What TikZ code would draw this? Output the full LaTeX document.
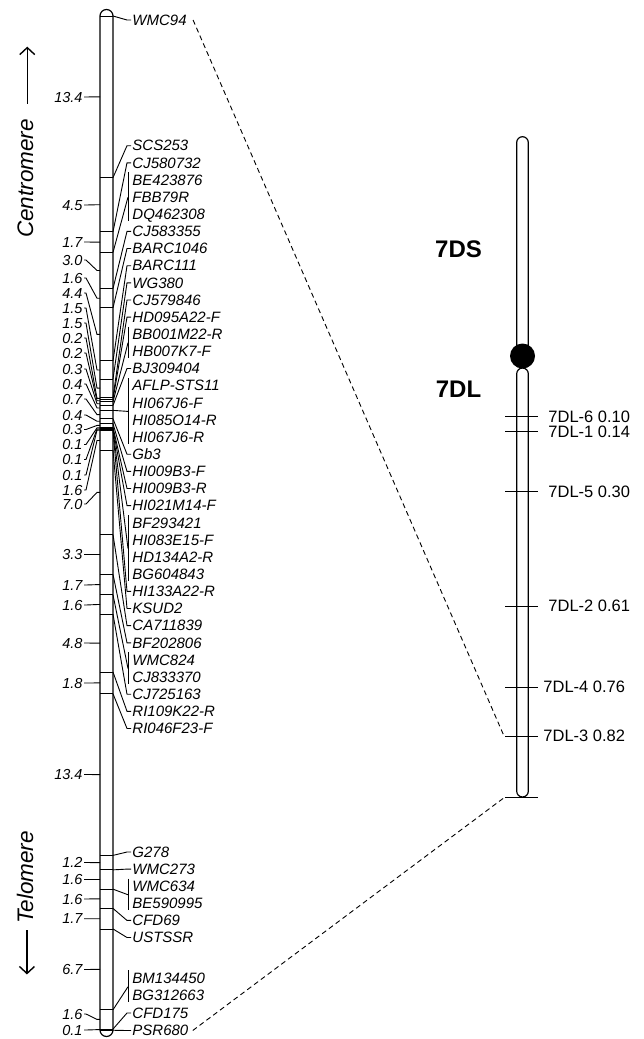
\documentclass[tikz,border=0pt]{standalone}
\usepackage{fontspec}
\setmainfont{Liberation Sans}
\usepackage{tikz}
\usetikzlibrary{arrows.meta,calc}

\tikzset{
  mk/.style={anchor=west, inner sep=1pt, text height=10.5pt, text depth=0pt, font=\fontsize{15}{17}\selectfont\itshape},
  dist/.style={anchor=east, inner sep=1pt, text height=10.2pt, text depth=0pt, font=\fontsize{14.5}{17}\selectfont\itshape},
  flbl/.style={anchor=west, inner sep=1pt, text height=11pt, text depth=0pt, font=\fontsize{16.5}{19}\selectfont},
  armlbl/.style={font=\fontsize{24}{28}\selectfont\bfseries},
  endlbl/.style={rotate=90, anchor=base, inner sep=0pt, font=\fontsize{22.5}{26}\selectfont\itshape},
  updown/.style={line width=1.4pt, -{Straight Barb[length=7pt,width=15pt]}},
  link/.style={dash pattern=on 5pt off 3.5pt, line width=0.9pt},
  body/.style={line width=1.2pt},
}

\begin{document}
\begin{tikzpicture}[x=1pt,y=-1pt,line width=0.9pt]
  \useasboundingbox (0,0) rectangle (644,1039);

  % Linkage group (cM scale: 12.06 px per cM, top locus at 16)
  \draw[body,rounded corners=6.5pt] (100,9.5) rectangle (113,1036.5);
  \foreach \i/\c in {0/0,1/13.4,2/17.9,3/19.6,4/22.6,5/24.2,6/28.6,7/30.1,8/31.6,
      9/31.8,10/32.0,11/32.3,12/32.7,13/33.4,14/33.8,15/34.1,16/34.2,17/34.3,18/34.4,
      19/36.0,20/43.0,21/46.3,22/48.0,23/49.6,24/54.4,25/56.2,26/69.6,27/70.8,28/72.4,
      29/74.0,30/75.7,31/82.4,32/84.0,33/84.1} {
    \draw (100,16+12.06*\c) -- (113,16+12.06*\c) coordinate (l\i);
  }

  % Interval distances on the left
  \foreach \i/\d/\c/\ly in {1/13.4/6.7/97,2/4.5/15.65/205,3/1.7/18.75/242,4/3.0/21.1/260,
      5/1.6/23.4/278,6/4.4/26.4/293,7/1.5/29.35/308,8/1.5/30.85/323,9/0.2/31.7/338,
      10/0.2/31.9/353,11/0.3/32.15/369,12/0.4/32.5/384,13/0.7/33.05/399,14/0.4/33.6/415,
      15/0.3/33.95/429.5,16/0.1/34.15/444.5,17/0.1/34.25/459.5,18/0.1/34.35/475,
      19/1.6/35.2/490,20/7.0/39.5/504,21/3.3/44.65/554.5,22/1.7/47.15/585,23/1.6/48.8/605,
      24/4.8/52.0/643,25/1.8/55.3/683,26/13.4/62.9/774.5,27/1.2/70.2/862.5,28/1.6/71.6/879.5,
      29/1.6/73.2/899,30/1.7/74.85/918.7,31/6.7/79.05/969.5,32/1.6/83.2/1014,33/0.1/84.05/1030} {
    \coordinate (n\i) at (100,16+12.06*\c);
    \node[dist] (d\i) at (84,\ly) {\d};
    \draw (d\i.east) -- ++(2,0) -- ([xshift=-3pt]n\i) -- (n\i);
  }

  % Marker names on the right
  \foreach \n/\t/\y in {wmc94/WMC94/20,scs253/SCS253/145.7,cj580732/CJ580732/162.8,
      be423876/BE423876/180,fbb79r/FBB79R/197.1,dq462308/DQ462308/214.3,
      cj583355/CJ583355/231.4,barc1046/BARC1046/248.5,barc111/BARC111/265.7,
      wg380/WG380/282.8,cj579846/CJ579846/300,hd095a22f/HD095A22-F/317.1,
      bb001m22r/BB001M22-R/334.2,hb007k7f/HB007K7-F/351.4,bj309404/BJ309404/368.5,
      aflp/AFLP-STS11/385.7,hi067j6f/HI067J6-F/402.8,hi085o14r/HI085O14-R/419.9,
      hi067j6r/HI067J6-R/437.1,gb3/Gb3/454.2,hi009b3f/HI009B3-F/471.4,
      hi009b3r/HI009B3-R/488.5,hi021m14f/HI021M14-F/505.6,bf293421/BF293421/522.8,
      hi083e15f/HI083E15-F/539.9,hd134a2r/HD134A2-R/557.1,bg604843/BG604843/574.2,
      hi133a22r/HI133A22-R/591.3,ksud2/KSUD2/608.5,ca711839/CA711839/625.6,
      bf202806/BF202806/642.8,wmc824/WMC824/659.9,cj833370/CJ833370/677,
      cj725163/CJ725163/694.2,ri109k22r/RI109K22-R/711.3,ri046f23f/RI046F23-F/728.5,
      g278/G278/852,wmc273/WMC273/869.1,wmc634/WMC634/886.2,be590995/BE590995/903.3,
      cfd69/CFD69/920.4,ustssr/USTSSR/937.5,bm134450/BM134450/978,
      bg312663/BG312663/995.5,cfd175/CFD175/1013,psr680/PSR680/1030.5} {
    \node[mk] (\n) at (131,\y) {\t};
  }

  % Single markers
  \foreach \l/\n in {l0/wmc94,l1/scs253,l2/cj580732,l4/cj583355,l5/barc1046,l6/barc111,
      l7/wg380,l8/cj579846,l9/hd095a22f,l11/bj309404,l13/gb3,l14/hi009b3f,l15/hi009b3r,
      l16/hi021m14f,l18/hi133a22r,l19/ksud2,l20/ca711839,l21/bf202806,l23/cj725163,
      l24/ri109k22r,l25/ri046f23f,l26/g278,l27/wmc273,l29/cfd69,l30/ustssr,
      l32/cfd175,l33/psr680} {
    \draw (\l) -- ([xshift=-4pt]\n.west) -- (\n.west);
  }

  % Co-segregating markers
  \foreach \l/\a/\b in {l3/be423876/dq462308,l10/bb001m22r/hb007k7f,l12/aflp/hi067j6r,
      l17/bf293421/bg604843,l22/wmc824/cj833370,l28/wmc634/be590995,
      l31/bm134450/bg312663} {
    \draw ([xshift=-3pt,yshift=1pt]\a.north west) -- ([xshift=-3pt]\b.south west);
    \draw (\l) -- ($(\a.west)!0.5!(\b.west)+(-3,0)$);
  }

  % Orientation
  \node[endlbl] (cen) at (33,178.5) {Centromere};
  \draw[updown] ([xshift=2pt,yshift=15pt]cen.east) -- ++(0,-57);
  \node[endlbl] (tel) at (33,877.5) {Telomere};
  \draw[updown] ([xshift=2pt,yshift=-6pt]tel.west) -- ++(0,44);

  % Deletion bin map of 7D
  \draw[body,rounded corners=5.8pt] (516.7,136.7) rectangle (528.3,352);
  \draw[body,rounded corners=5.8pt] (516.7,368) rectangle (528.3,797);
  \fill (522.5,356) circle[radius=12.5pt];
  \node[armlbl] (ds) at (458.5,249) {7DS};
  \node[armlbl] (dl) at (458.5,389) {7DL};

  \foreach \n/\t/\y/\lx in {b6/7DL-6 0.10/416.7/547,b1/7DL-1 0.14/431.7/547,
      b5/7DL-5 0.30/491.7/547,b2/7DL-2 0.61/606/547,b4/7DL-4 0.76/687.3/542,
      b3/7DL-3 0.82/736/542} {
    \draw (505,\y) -- (538,\y);
    \node[flbl] (\n) at (\lx,\y) {\t};
  }
  \coordinate (c3) at (504,736);
  \coordinate (cb) at (505,797);
  \draw (cb) -- (538,797);

  % Zoom lines
  \draw[link] ([xshift=5pt]wmc94.east) -- (c3);
  \draw[link] ([xshift=3pt]psr680.east) -- (cb);
\end{tikzpicture}
\end{document}
